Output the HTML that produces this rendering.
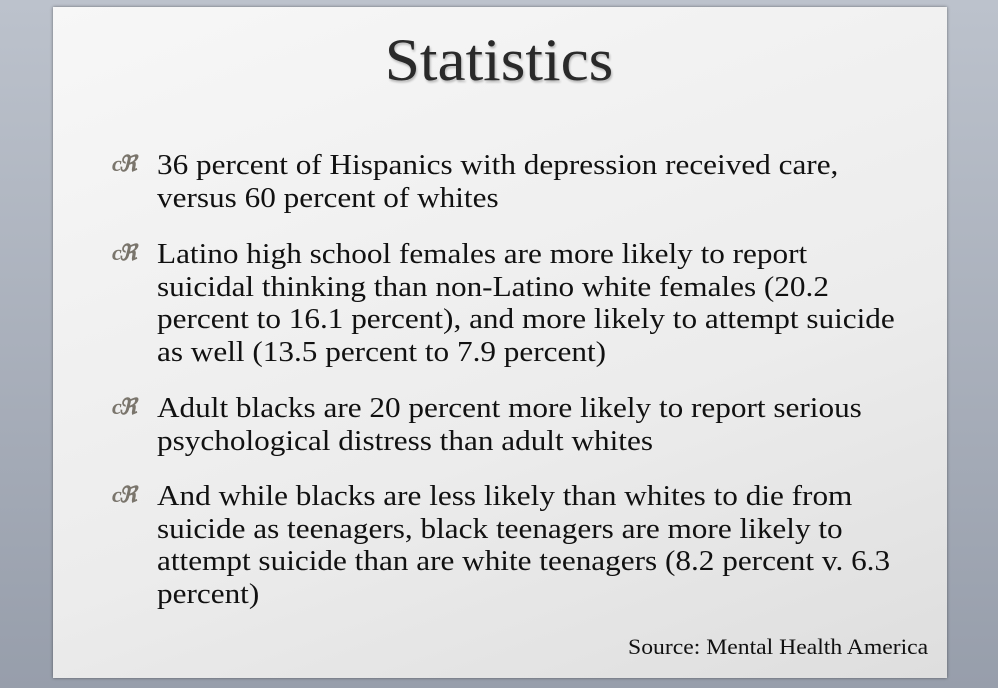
<!DOCTYPE html>
<html><head><style>
html,body{margin:0;padding:0}
body{width:998px;height:688px;position:relative;overflow:hidden;background:linear-gradient(#bcc2cc,#979eab);font-family:"Liberation Serif",serif;}
.slide{position:absolute;left:53px;top:7px;width:894px;height:671px;background:linear-gradient(160deg,#f7f7f7,#ececec 60%,#dedede);box-shadow:0 0 3px rgba(0,0,0,.45);}
.title{position:absolute;left:0;width:998px;top:25px;text-align:center;font-size:60px;color:#2a2a2a;text-shadow:1px 2px 2px rgba(0,0,0,.25);line-height:70px;transform:scaleX(1.055)}
.b{position:absolute;left:157px;font-size:28px;line-height:32.6px;color:#111;white-space:nowrap;transform:scaleX(1.115);transform-origin:0 0}
.bu{position:absolute;left:112px;font-size:22px;color:#7a756c;font-style:italic;letter-spacing:-3px;font-weight:bold}
.src{position:absolute;right:70px;top:634px;font-size:22px;color:#111;transform:scaleX(1.075);transform-origin:100% 0}
</style></head><body>
<div class="slide"></div>
<div class="title">Statistics</div>
<div class="bu" style="top:151px">c&#x211C;</div>
<div class="b" style="top:150px">36 percent of Hispanics with depression received care,<br>versus 60 percent of whites</div>
<div class="bu" style="top:240px">c&#x211C;</div>
<div class="b" style="top:239px">Latino high school females are more likely to report<br>suicidal thinking than non-Latino white females (20.2<br>percent to 16.1 percent), and more likely to attempt suicide<br>as well (13.5 percent to 7.9 percent)</div>
<div class="bu" style="top:394px">c&#x211C;</div>
<div class="b" style="top:393px">Adult blacks are 20 percent more likely to report serious<br>psychological distress than adult whites</div>
<div class="bu" style="top:482px">c&#x211C;</div>
<div class="b" style="top:481px">And while blacks are less likely than whites to die from<br>suicide as teenagers, black teenagers are more likely to<br>attempt suicide than are white teenagers (8.2 percent v. 6.3<br>percent)</div>
<div class="src">Source: Mental Health America</div>
</body></html>
